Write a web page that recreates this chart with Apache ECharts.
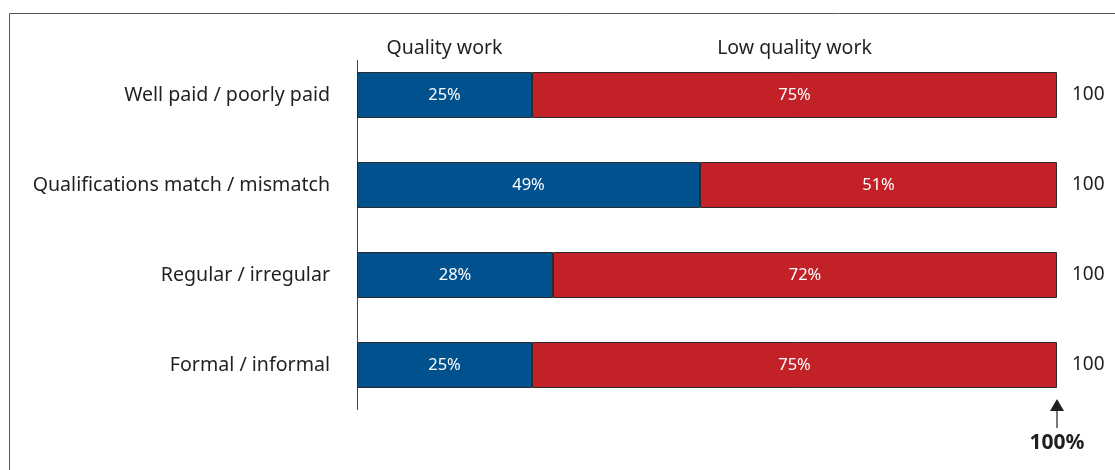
<!DOCTYPE html>
<html><head><meta charset="utf-8">
<script src="https://cdn.jsdelivr.net/npm/echarts@6/dist/echarts.min.js"></script>
<style>html,body{margin:0;padding:0;background:#fff}#c{width:1115px;height:470px}</style>
</head><body><div id="c"></div>
<script>
const categories = ['Well paid / poorly paid','Qualifications match / mismatch','Regular / irregular','Formal / informal'];
const qualityWork = [25, 49, 28, 25];
const lowQualityWork = [75, 51, 72, 75];
const totals = ['100','100','100','100'];
const seriesNames = ['Quality work','Low quality work'];
const FONT = '"Noto Sans", "Open Sans", sans-serif';
const chart = echarts.init(document.getElementById('c'));
const option = {
  animation: false,
  backgroundColor: '#fff',
  grid: {left: 357, top: 50, width: 700, height: 360},
  xAxis: {type: 'value', min: 0, max: 100, show: false},
  yAxis: [
    {type: 'category', data: categories, inverse: true,
     axisLine: {show: false}, axisTick: {show: false},
     axisLabel: {margin: 27, fontSize: 19.6, color: '#231f20', fontFamily: FONT}},
    {type: 'category', data: totals, inverse: true, position: 'right',
     axisLine: {show: false}, axisTick: {show: false},
     axisLabel: {margin: 15, fontSize: 19, color: '#231f20', fontFamily: FONT}}
  ],
  series: [
    {name: seriesNames[0], type: 'bar', stack: 't', data: qualityWork, barWidth: 46,
     itemStyle: {color: '#02518f', borderColor: '#2b2b2b', borderWidth: 1},
     label: {show: true, position: 'inside', formatter: '{c}%', color: '#fff', fontSize: 16.5, fontFamily: FONT}},
    {name: seriesNames[1], type: 'bar', stack: 't', data: lowQualityWork, barWidth: 46,
     itemStyle: {color: '#c12127', borderColor: '#2b2b2b', borderWidth: 1},
     label: {show: true, position: 'inside', formatter: '{c}%', color: '#fff', fontSize: 16.5, fontFamily: FONT}}
  ]
};
chart.setOption(option);
const x0 = chart.convertToPixel({xAxisIndex: 0}, 0);
const x100 = chart.convertToPixel({xAxisIndex: 0}, 100);
const xq = chart.convertToPixel({xAxisIndex: 0}, qualityWork[0] / 2);
const xl = chart.convertToPixel({xAxisIndex: 0}, qualityWork[0] + lowQualityWork[0] / 2);
chart.setOption({
  graphic: [
    {type: 'polyline', shape: {points: [[9.5, 470], [9.5, 13.5], [1115, 13.5]]}, style: {stroke: '#555', lineWidth: 1, fill: null}},
    {type: 'line', shape: {x1: x0 + 0.5, y1: 60, x2: x0 + 0.5, y2: 410}, style: {stroke: '#444', lineWidth: 1}},
    {type: 'text', x: xq, y: 48, style: {text: seriesNames[0], align: 'center', verticalAlign: 'middle', fontSize: 19.5, fill: '#231f20', fontFamily: FONT}},
    {type: 'text', x: xl, y: 48, style: {text: seriesNames[1], align: 'center', verticalAlign: 'middle', fontSize: 19.5, fill: '#231f20', fontFamily: FONT}},
    {type: 'line', shape: {x1: x100, y1: 408, x2: x100, y2: 428}, style: {stroke: '#231f20', lineWidth: 1.2}},
    {type: 'polygon', shape: {points: [[x100, 399], [x100 - 7, 411], [x100 + 7, 411]]}, style: {fill: '#231f20'}},
    {type: 'text', x: x100, y: 443, style: {text: '100%', align: 'center', verticalAlign: 'middle', fontSize: 21, fontWeight: 'bold', fill: '#231f20', fontFamily: FONT}}
  ]
});
</script></body></html>
